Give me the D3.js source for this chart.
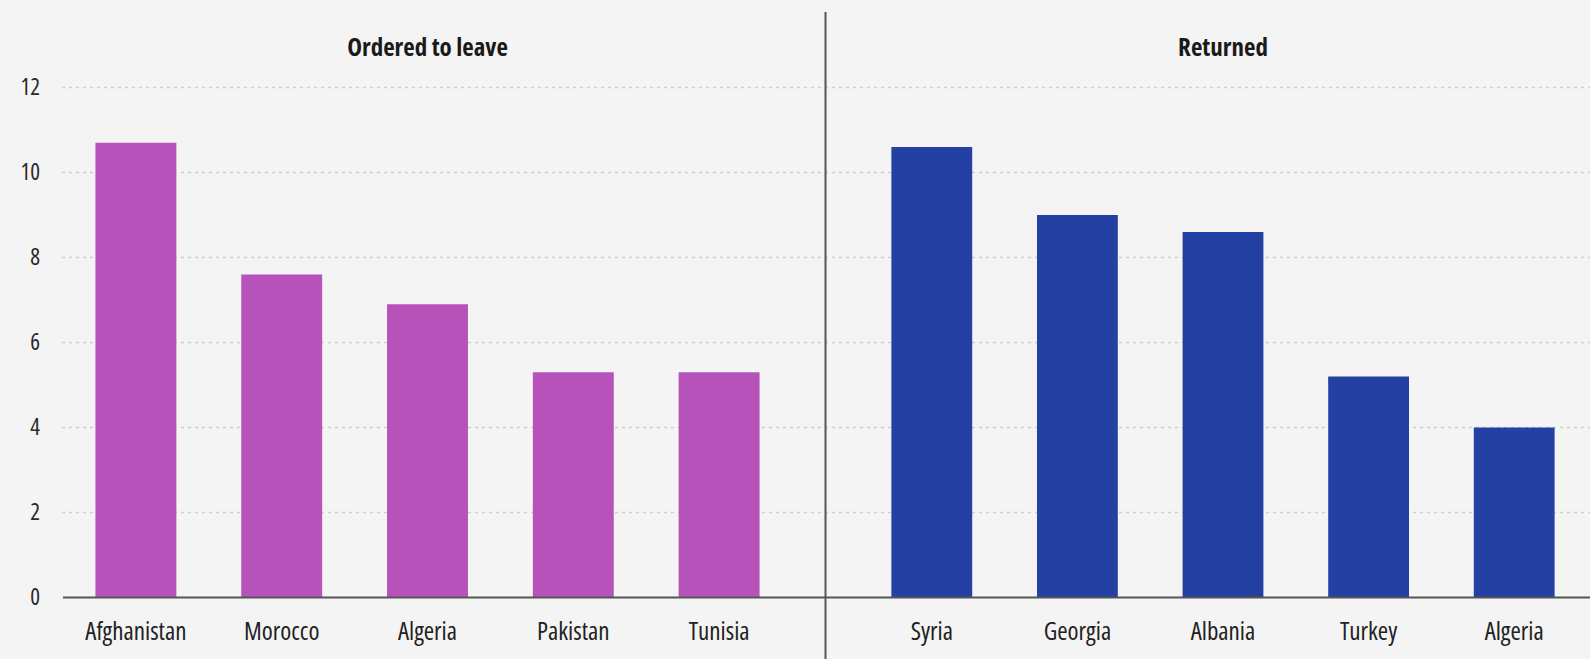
<!DOCTYPE html>
<html>
<head>
<meta charset="utf-8">
<script src="https://cdn.jsdelivr.net/npm/d3@7"></script>
<style>
  html, body { margin: 0; padding: 0; background: #f4f4f4; }
  svg { display: block; }
  text { font-family: "Open Sans", sans-serif; font-stretch: 75%; }
</style>
</head>
<body>
<svg id="chart" width="1590" height="659"></svg>
<script>
const leftTitle = "Ordered to leave";
const rightTitle = "Returned";
const leftCategories = ["Afghanistan", "Morocco", "Algeria", "Pakistan", "Tunisia"];
const leftValues = [10.7, 7.6, 6.9, 5.3, 5.3];
const rightCategories = ["Syria", "Georgia", "Albania", "Turkey", "Algeria"];
const rightValues = [10.6, 9.0, 8.6, 5.2, 4.0];
const yTicks = [0, 2, 4, 6, 8, 10, 12];

const W = 1590, H = 659;
const FONT = '"Open Sans", sans-serif';
const svg = d3.select("#chart");
svg.append("rect").attr("width", W).attr("height", H).attr("fill", "#f4f4f4");

const y = d3.scaleLinear().domain([0, 12]).range([597.5, 87.5]);
const xLeft = d3.scaleBand().domain(leftCategories).range([63, 792]).paddingInner(0.445).paddingOuter(0.2225);
const xRight = d3.scaleBand().domain(rightCategories).range([859, 1587]).paddingInner(0.445).paddingOuter(0.2225);

// gridlines
svg.append("g").selectAll("line").data(yTicks.filter(t => t > 0)).join("line")
  .attr("x1", 62).attr("x2", W)
  .attr("y1", d => y(d)).attr("y2", d => y(d))
  .attr("stroke", "#cfcfcf").attr("stroke-width", 1.5)
  .attr("stroke-dasharray", "3,4");

// y-axis labels
const yAxis = d3.axisLeft(y).tickValues(yTicks).tickSize(0).tickPadding(0);
const yg = svg.append("g").attr("transform", "translate(40,0)").call(yAxis);
yg.select(".domain").remove();
yg.selectAll("text").attr("font-size", 23).attr("fill", "#2a2a2a")
  .attr("font-family", FONT).attr("font-weight", 500).style("font-stretch", "75%");

// bars
function drawPanel(x, cats, vals, color, title) {
  const g = svg.append("g");
  g.selectAll("rect").data(cats).join("rect")
    .attr("x", d => x(d))
    .attr("width", x.bandwidth())
    .attr("y", (d, i) => y(vals[i]))
    .attr("height", (d, i) => y(0) - y(vals[i]))
    .attr("fill", color);
  const ax = d3.axisBottom(x).tickSize(0).tickPadding(21);
  const ag = svg.append("g").attr("transform", `translate(0,${y(0) + 4})`).call(ax);
  ag.select(".domain").remove();
  ag.selectAll("text").attr("font-size", 25).attr("fill", "#222")
    .attr("font-family", FONT).attr("font-weight", 500).style("font-stretch", "75%");
  const r = x.range();
  svg.append("text").attr("x", (r[0] + r[1]) / 2).attr("y", 56)
    .attr("text-anchor", "middle").attr("font-size", 25).attr("font-weight", "bold")
    .attr("font-family", FONT).style("font-stretch", "75%")
    .attr("fill", "#1a1a1a").text(title);
}
drawPanel(xLeft, leftCategories, leftValues, "#b652ba", leftTitle);
drawPanel(xRight, rightCategories, rightValues, "#2440a2", rightTitle);

// baseline
svg.append("line").attr("x1", 63).attr("x2", W)
  .attr("y1", y(0)).attr("y2", y(0))
  .attr("stroke", "#555").attr("stroke-width", 2);

// divider
svg.append("line").attr("x1", 825.5).attr("x2", 825.5)
  .attr("y1", 12).attr("y2", H)
  .attr("stroke", "#555").attr("stroke-width", 2);
</script>
</body>
</html>
